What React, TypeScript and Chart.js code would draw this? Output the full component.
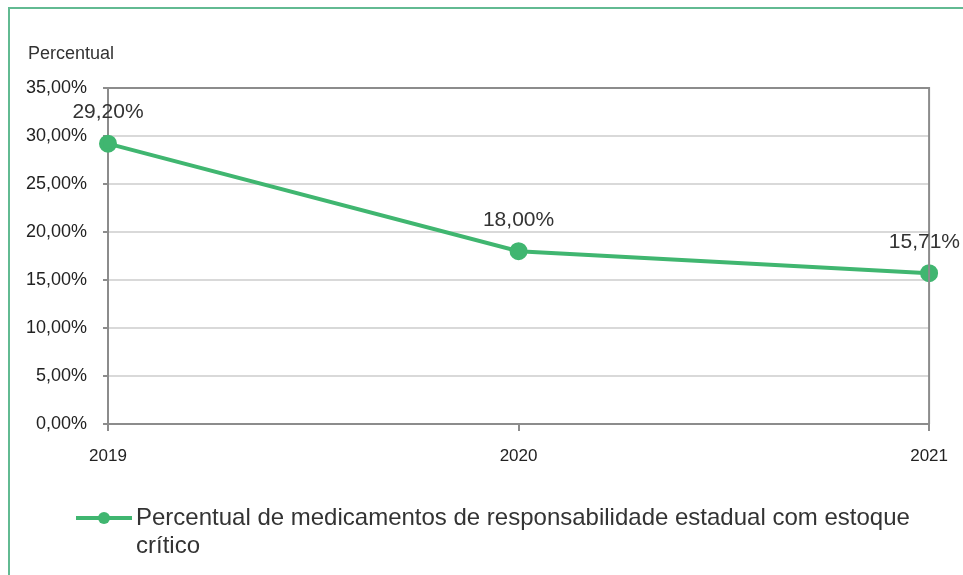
import React, { useEffect, useRef } from "react";
import { Chart, registerables } from "chart.js";

Chart.register(...registerables);

const categories = ["2019", "2020", "2021"];
const seriesValues = [29.2, 18.0, 15.71];
const seriesLabel = "Percentual de medicamentos de responsabilidade estadual com estoque crítico";
const axisTitle = "Percentual";
const yMin = 0;
const yMax = 35;
const yStep = 5;

const FONT = "Arial, 'Liberation Sans', sans-serif";
const GREEN = "rgb(64,182,112)";
const TEXT = "#333333";

const fmt = (v: number) => v.toFixed(2).replace(".", ",") + "%";

const extrasPlugin = {
  id: "extras",
  afterDraw(chart: any) {
    const ctx = chart.ctx;
    const area = chart.chartArea;
    ctx.save();
    // top and right border of plot area
    ctx.strokeStyle = "#8c8c8c";
    ctx.lineWidth = 2;
    ctx.beginPath();
    ctx.moveTo(area.left, area.top);
    ctx.lineTo(area.right, area.top);
    ctx.lineTo(area.right, area.bottom);
    ctx.stroke();

    // axis title
    ctx.fillStyle = TEXT;
    ctx.font = `18px ${FONT}`;
    ctx.textAlign = "left";
    ctx.textBaseline = "middle";
    ctx.fillText(axisTitle, 28, 54);

    // data labels
    const meta = chart.getDatasetMeta(0);
    ctx.font = `21px ${FONT}`;
    ctx.textAlign = "center";
    meta.data.forEach((pt: any, i: number) => {
      const txt = fmt(seriesValues[i]);
      const w = ctx.measureText(txt).width;
      let x = pt.x;
      if (x + w / 2 > chart.width - 3) x = chart.width - 3 - w / 2;
      if (x - w / 2 < 3) x = 3 + w / 2;
      ctx.fillText(txt, x, pt.y - 31);
    });

    // legend
    const ly = 518;
    ctx.strokeStyle = GREEN;
    ctx.lineWidth = 4;
    ctx.beginPath();
    ctx.moveTo(76, ly);
    ctx.lineTo(132, ly);
    ctx.stroke();
    ctx.fillStyle = GREEN;
    ctx.beginPath();
    ctx.arc(104, ly, 6, 0, Math.PI * 2);
    ctx.fill();

    ctx.fillStyle = TEXT;
    ctx.font = `24px ${FONT}`;
    ctx.textAlign = "left";
    ctx.textBaseline = "middle";
    const maxW = 800;
    const words = seriesLabel.split(" ");
    const lines: string[] = [];
    let cur = "";
    words.forEach((wd) => {
      const test = cur ? cur + " " + wd : wd;
      if (ctx.measureText(test).width > maxW && cur) {
        lines.push(cur);
        cur = wd;
      } else cur = test;
    });
    if (cur) lines.push(cur);
    lines.forEach((ln, i) => ctx.fillText(ln, 136, ly + i * 28));
    ctx.restore();
  },
};

export default function App() {
  const ref = useRef<HTMLCanvasElement>(null);
  useEffect(() => {
    document.body.style.margin = "0";
    const chart = new Chart(ref.current!, {
      type: "line",
      data: {
        labels: categories,
        datasets: [
          {
            label: seriesLabel,
            data: seriesValues,
            borderColor: GREEN,
            backgroundColor: GREEN,
            borderWidth: 4,
            pointRadius: 7,
            pointBackgroundColor: GREEN,
            pointBorderColor: GREEN,
            tension: 0,
          },
        ],
      },
      options: {
        responsive: false,
        animation: false,
        layout: { padding: { left: 0, right: 31, top: 88, bottom: 111 } },
        plugins: { legend: { display: false }, tooltip: { enabled: false } },
        scales: {
          x: {
            type: "category",
            offset: false,
            afterFit: (s: any) => {
              s.height = 40;
            },
            grid: {
              drawOnChartArea: false,
              drawTicks: true,
              tickLength: 7,
              tickColor: "#8c8c8c",
              lineWidth: 2,
            },
            border: { color: "#8c8c8c", width: 2 },
            ticks: {
              color: "#222",
              font: { family: FONT, size: 17 },
              padding: 15,
              maxRotation: 0,
              autoSkip: false,
            },
          },
          y: {
            min: yMin,
            max: yMax,
            afterFit: (s: any) => {
              s.width = 108;
            },
            grid: {
              color: "#d9d9d9",
              lineWidth: 2,
              tickLength: 5,
              tickColor: "#8c8c8c",
            },
            border: { color: "#8c8c8c", width: 2 },
            ticks: {
              stepSize: yStep,
              color: "#222",
              font: { family: FONT, size: 18 },
              padding: 16,
              callback: (v: any) => fmt(Number(v)),
            },
          },
        },
      },
      plugins: [extrasPlugin],
    });
    return () => chart.destroy();
  }, []);
  return (
    <div style={{ position: "relative", width: 963, height: 575, background: "#fff", overflow: "hidden" }}>
      <div
        style={{
          position: "absolute",
          left: 8,
          top: 7,
          width: 1000,
          height: 700,
          border: "2px solid rgb(98,186,146)",
          boxSizing: "border-box",
        }}
      />
      <canvas ref={ref} width={963} height={575} style={{ position: "absolute", left: 0, top: 0 }} />
    </div>
  );
}
